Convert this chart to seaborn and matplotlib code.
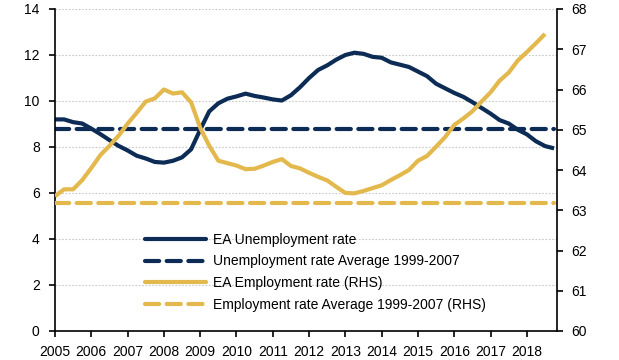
import numpy as np
import pandas as pd
import matplotlib
matplotlib.use("Agg")
import matplotlib.pyplot as plt
import seaborn as sns
from matplotlib.lines import Line2D

# quarterly values, 2005Q1 onwards
unemployment = [9.2, 9.2, 9.08, 9.02, 8.8, 8.56, 8.3, 8.05, 7.85, 7.62, 7.5, 7.35,
                7.32, 7.4, 7.55, 7.9, 8.75, 9.55, 9.9, 10.1, 10.2, 10.32, 10.22, 10.15,
                10.07, 10.02, 10.25, 10.6, 11.0, 11.35, 11.55, 11.8, 12.0, 12.1, 12.05, 11.92,
                11.88, 11.68, 11.58, 11.48, 11.28, 11.08, 10.75, 10.55, 10.35, 10.18, 9.95, 9.7,
                9.45, 9.17, 9.02, 8.75, 8.55, 8.25, 8.04, 7.94]
employment = [63.35, 63.52, 63.52, 63.75, 64.05, 64.37, 64.6, 64.85, 65.15, 65.42, 65.7, 65.78,
              66.0, 65.9, 65.93, 65.68, 65.05, 64.6, 64.23, 64.17, 64.11, 64.02, 64.03, 64.11,
              64.2, 64.27, 64.1, 64.04, 63.93, 63.83, 63.74, 63.58, 63.43, 63.42, 63.48, 63.55,
              63.62, 63.75, 63.87, 64.0, 64.23, 64.35, 64.58, 64.82, 65.12, 65.28, 65.46, 65.7,
              65.93, 66.22, 66.42, 66.72, 66.93, 67.15, 67.38]
unemp_avg = 8.8
emp_avg = 63.17
years = list(range(2005, 2019))
labels = ["EA Unemployment rate",
          "Unemployment rate Average 1999-2007",
          "EA Employment rate (RHS)",
          "Employment rate Average 1999-2007 (RHS)"]

navy = "#0C2B55"
gold = "#E3B84C"

sns.set_theme(style="white")
plt.rcParams["font.family"] = ["Liberation Sans", "DejaVu Sans"]

t_u = 2005 + np.arange(len(unemployment)) * 0.25
df_u = pd.DataFrame({"t": t_u, "u": unemployment, "ua": unemp_avg})
df_e = pd.DataFrame({"t": t_u, "e": employment + [np.nan], "ea": emp_avg})

fig = plt.figure(figsize=(6.19, 3.6), dpi=100)
ax = fig.add_axes([55 / 619, 29 / 360, 502 / 619, 322 / 360])
ax2 = ax.twinx()

lw = 3.0
sns.lineplot(data=df_u, x="t", y="u", ax=ax, color=navy, linewidth=lw)
sns.lineplot(data=df_u, x="t", y="ua", ax=ax, color=navy, linewidth=lw)
sns.lineplot(data=df_e, x="t", y="e", ax=ax2, color=gold, linewidth=lw)
sns.lineplot(data=df_e, x="t", y="ea", ax=ax2, color=gold, linewidth=lw)

for line in ax.lines + ax2.lines:
    line.set_solid_capstyle("butt")
for line in [ax.lines[1], ax2.lines[1]]:
    line.set_dashes((3.4, 1.8))
    line.set_dash_capstyle("round")

ax.set_xlim(2005, 2018.83)
ax.set_ylim(0, 14)
ax2.set_ylim(60, 68)
ax.set_xticks(years)
ax.set_xticklabels([str(y) for y in years])
ax.set_yticks(np.arange(0, 15, 2))
ax2.set_yticks(np.arange(60, 69, 1))
ax.set_xlabel("")
ax.set_ylabel("")
ax2.set_ylabel("")

for g in np.arange(2, 15, 2):
    ax.axhline(g, color="#C8C8C8", linestyle=(0, (1.5, 1.5)), linewidth=0.8, zorder=0)

for a in (ax, ax2):
    for s in a.spines.values():
        s.set_visible(False)
    a.grid(False)
for side in ("left", "bottom"):
    ax.spines[side].set_visible(True)
    ax.spines[side].set_color("black")
    ax.spines[side].set_linewidth(1.2)
ax2.spines["right"].set_visible(True)
ax2.spines["right"].set_color("black")
ax2.spines["right"].set_linewidth(1.2)

ax.tick_params(axis="both", which="major", direction="out", length=4, width=1.2,
               color="black", labelsize=10, labelcolor="black", pad=6,
               left=True, bottom=True)
ax.tick_params(axis="y", pad=7)
ax2.tick_params(axis="y", direction="out", length=4, width=1.2, color="black",
                labelsize=10, labelcolor="black", pad=6, right=True)

handles = []
for col, dash in [(navy, False), (navy, True), (gold, False), (gold, True)]:
    h = Line2D([0], [0], color=col, linewidth=lw)
    if dash:
        h.set_dashes((3.4, 1.8))
        h.set_dash_capstyle("round")
    else:
        h.set_solid_capstyle("round")
    handles.append(h)
leg = ax2.legend(handles, labels, loc="upper left", bbox_to_anchor=(0.18, 0.305),
                 frameon=False, fontsize=10, handlelength=4.4, handletextpad=0.45,
                 labelspacing=0.55, borderaxespad=0, borderpad=0)
for txt in leg.get_texts():
    txt.set_color("black")

fig.savefig("out.png", dpi=100)
